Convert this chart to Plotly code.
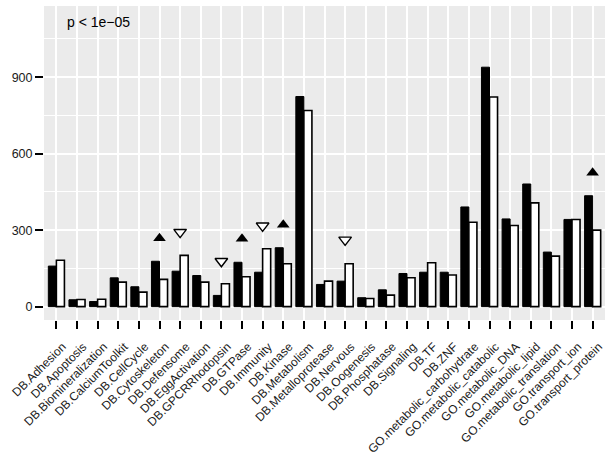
import plotly.graph_objects as go

categories = [
    "DB.Adhesion", "DB.Apoptosis", "DB.Biomineralization", "DB.CalciumToolkit",
    "DB.CellCycle", "DB.Cytoskeleton", "DB.Defensome", "DB.EggActivation",
    "DB.GPCRRhodopsin", "DB.GTPase", "DB.Immunity", "DB.Kinase",
    "DB.Metabolism", "DB.Metalloprotease", "DB.Nervous", "DB.Oogenesis",
    "DB.Phosphatase", "DB.Signaling", "DB.TF", "DB.ZNF",
    "GO.metabolic_carbohydrate", "GO.metabolic_catabolic", "GO.metabolic_DNA",
    "GO.metabolic_lipid", "GO.metabolic_translation", "GO.transport_ion",
    "GO.transport_protein",
]

black_values = [159, 27, 20, 113, 78, 178, 139, 122, 44, 174, 135, 231, 824,
                87, 100, 35, 66, 130, 135, 135, 391, 939, 344, 481, 214, 342, 435]
white_values = [182, 28, 29, 96, 57, 107, 201, 96, 90, 117, 227, 168, 769,
                100, 168, 32, 45, 113, 172, 124, 331, 822, 318, 407, 198, 342, 300]

up_cats = ["DB.Cytoskeleton", "DB.GTPase", "DB.Kinase", "GO.transport_protein"]
up_y = [268, 266, 321, 525]
down_cats = ["DB.Defensome", "DB.GPCRRhodopsin", "DB.Immunity", "DB.Nervous"]
down_y = [292, 178, 317, 262]

y_ticks = [0, 300, 600, 900]
p_label = "p < 1e\u221205"

fig = go.Figure()
fig.add_trace(go.Bar(x=categories, y=black_values, marker=dict(color="black", line=dict(color="black", width=1)),
                     showlegend=False))
fig.add_trace(go.Bar(x=categories, y=white_values, marker=dict(color="white", line=dict(color="black", width=1.6)),
                     showlegend=False))
fig.add_trace(go.Scatter(x=up_cats, y=up_y, mode="markers", cliponaxis=False,
                         marker=dict(symbol="triangle-up", size=11, color="black", line=dict(width=0)),
                         showlegend=False))
fig.add_trace(go.Scatter(x=down_cats, y=down_y, mode="markers", cliponaxis=False,
                         marker=dict(symbol="triangle-down", size=11, color="white", line=dict(color="black", width=1.4)),
                         showlegend=False))

fig.add_annotation(x=0.4, y=1118, xref="x", yref="y", text=p_label, showarrow=False,
                   xanchor="left", yanchor="middle",
                   font=dict(family="Liberation Sans, Arial", size=14, color="black"))

fig.update_layout(
    width=612, height=457,
    margin=dict(l=44, r=7, t=6, b=137),
    paper_bgcolor="white", plot_bgcolor="#EBEBEB",
    barmode="group", bargap=0.22, bargroupgap=0,
    font=dict(family="Liberation Sans, Arial", size=12, color="#1a1a1a"),
)
fig.update_xaxes(
    range=[-0.6, 26.6], tickangle=-45, automargin=False,
    ticklabelshift=6, ticklabelstandoff=6,
    showgrid=True, gridcolor="white", gridwidth=1.5,
    ticks="outside", ticklen=8, tickwidth=1.8, tickcolor="black",
    tickfont=dict(size=12, color="#1a1a1a"), zeroline=False, showline=False,
)
fig.update_yaxes(
    range=[-52.4, 1179], tickvals=y_ticks, automargin=False,
    showgrid=True, gridcolor="white", gridwidth=1.5,
    minor=dict(tickvals=[150, 450, 750, 1050], showgrid=True, gridcolor="white", gridwidth=0.7),
    ticks="outside", ticklen=8, tickwidth=1.8, tickcolor="black",
    tickfont=dict(size=12.5, color="#1a1a1a"), zeroline=False, showline=False,
)

fig.write_html("out.html", config={"displayModeBar": False},
               post_script="document.body.style.margin='0px';")
